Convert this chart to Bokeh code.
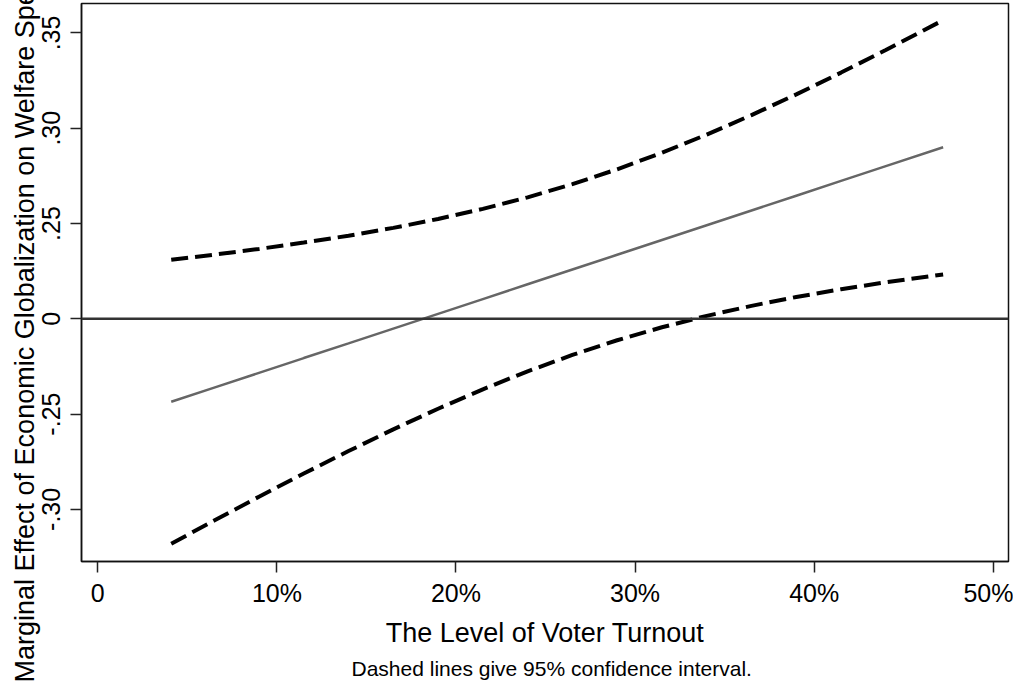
from bokeh.plotting import figure
from bokeh.models import Range1d, FixedTicker, Span, Title
from bokeh.embed import file_html
from bokeh.resources import INLINE

# ---- data (y in tick-step units, 0 = zero line) ----
turnout = [4.1, 6.5, 9.0, 11.5, 14.0, 16.5, 19.0, 21.5, 24.0, 26.5,
           29.0, 31.5, 34.0, 36.5, 39.0, 41.5, 44.0, 47.2]
effect = [-0.871, -0.722, -0.567, -0.412, -0.258, -0.103, 0.052, 0.207, 0.362, 0.517,
          0.672, 0.827, 0.982, 1.137, 1.292, 1.447, 1.602, 1.800]
upper = [0.619, 0.673, 0.733, 0.800, 0.872, 0.954, 1.048, 1.154, 1.275, 1.413,
         1.569, 1.743, 1.933, 2.138, 2.355, 2.584, 2.821, 3.134]
lower = [-2.361, -2.117, -1.867, -1.624, -1.388, -1.160, -0.944, -0.740, -0.551, -0.379,
         -0.225, -0.089, 0.031, 0.136, 0.229, 0.310, 0.383, 0.466]

x_ticks = [0, 10, 20, 30, 40, 50]
x_tick_labels = ["0", "10%", "20%", "30%", "40%", "50%"]
y_ticks = [-2, -1, 0, 1, 2, 3]
y_tick_labels = ["-.30", "-.25", "0", ".25", ".30", ".35"]

x_title = "The Level of Voter Turnout"
y_title = "Marginal Effect of Economic Globalization on Welfare Spending"
note = "Dashed lines give 95% confidence interval."

FONT = "Liberation Sans"

p = figure(width=1013, height=684, output_backend="svg", toolbar_location=None,
           x_range=Range1d(-0.91, 50.85), y_range=Range1d(-2.547, 3.309),
           min_border_left=81, min_border_right=5, min_border_top=3, min_border_bottom=123)

p.background_fill_color = "white"
p.border_fill_color = "white"
p.xgrid.visible = False
p.ygrid.visible = False
p.outline_line_color = "#111111"
p.outline_line_width = 1.5

# zero reference line
p.add_layout(Span(location=0, dimension="width", line_color="#333333", line_width=2.5))

# confidence bands and estimate
p.line(turnout, upper, line_color="black", line_width=4, line_dash="17 7")
p.line(turnout, lower, line_color="black", line_width=4, line_dash="17 7")
p.line(turnout, effect, line_color="#666666", line_width=2.5)

# x axis
xa = p.xaxis[0]
xa.ticker = FixedTicker(ticks=x_ticks)
xa.major_label_overrides = {t: l for t, l in zip(x_ticks, x_tick_labels)}
xa.major_tick_out = 11
xa.major_tick_in = 0
xa.minor_tick_out = 0
xa.minor_tick_in = 0
xa.major_tick_line_width = 1.5
xa.major_tick_line_color = "#222222"
xa.axis_line_color = "#111111"
xa.axis_line_width = 1.5
xa.major_label_text_font = FONT
xa.major_label_text_font_size = "25px"
xa.major_label_text_color = "black"
xa.major_label_standoff = 6
xa.axis_label = x_title
xa.axis_label_text_font = FONT
xa.axis_label_text_font_size = "27px"
xa.axis_label_text_font_style = "normal"
xa.axis_label_text_color = "black"
xa.axis_label_standoff = 8

# y axis
ya = p.yaxis[0]
ya.ticker = FixedTicker(ticks=y_ticks)
ya.major_label_overrides = {t: l for t, l in zip(y_ticks, y_tick_labels)}
ya.major_label_orientation = "vertical"
ya.major_tick_out = 11
ya.major_tick_in = 0
ya.minor_tick_out = 0
ya.minor_tick_in = 0
ya.major_tick_line_width = 1.5
ya.major_tick_line_color = "#222222"
ya.axis_line_color = "#111111"
ya.axis_line_width = 1.5
ya.major_label_text_font = FONT
ya.major_label_text_font_size = "25px"
ya.major_label_text_color = "black"
ya.major_label_standoff = 10

# y title (rotated, overflowing at the top like the original)
p.add_layout(Title(text=y_title, align="left", offset=-121, standoff=0,
                   text_font=FONT, text_font_size="27px", text_font_style="normal",
                   text_color="black"), "left")

# note under the x title
p.add_layout(Title(text=note, align="left", offset=270, standoff=8,
                   text_font=FONT, text_font_size="21px", text_font_style="normal",
                   text_color="black"), "below")

open("out.html", "w").write(file_html(p, INLINE))
